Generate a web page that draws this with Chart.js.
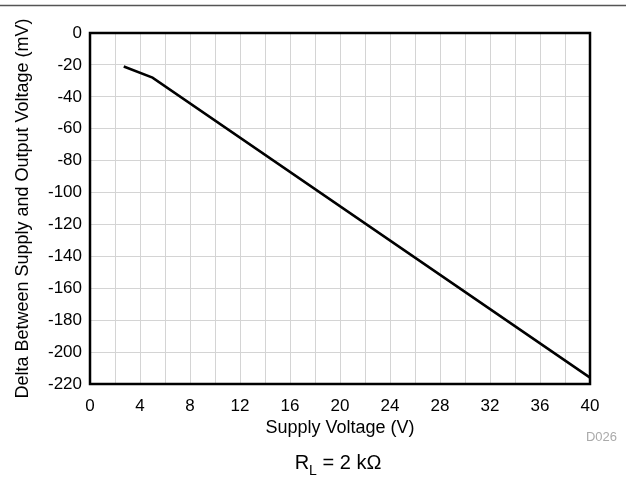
<!DOCTYPE html>
<html>
<head>
<meta charset="utf-8">
<script src="https://cdn.jsdelivr.net/npm/chart.js@4.4.1/dist/chart.umd.min.js"></script>
<style>
  html, body { margin: 0; padding: 0; background: #fff; }
  #wrap { width: 626px; height: 480px; position: relative; }
</style>
</head>
<body>
<div id="wrap"><canvas id="c" width="626" height="480"></canvas></div>
<script>
// values
const supplyVoltage = [2.7, 5, 40];
const deltaVoltage = [-21, -28, -216];
const xTickLabels = [0, 4, 8, 12, 16, 20, 24, 28, 32, 36, 40];
const yTickLabels = [0, -20, -40, -60, -80, -100, -120, -140, -160, -180, -200, -220];

const font = 'Liberation Sans, Arial, sans-serif';

// frame, header rule and the footnotes
const extras = {
  id: 'extras',
  afterDraw(chart) {
    const ctx = chart.ctx;
    const a = chart.chartArea;
    ctx.save();
    ctx.strokeStyle = '#000';
    ctx.lineWidth = 2.5;
    ctx.strokeRect(a.left, a.top, a.right - a.left, a.bottom - a.top);

    ctx.strokeStyle = '#555';
    ctx.lineWidth = 1.5;
    ctx.beginPath();
    ctx.moveTo(0, 5.5);
    ctx.lineTo(626, 5.5);
    ctx.stroke();

    ctx.fillStyle = '#aaa';
    ctx.font = '13px ' + font;
    ctx.textAlign = 'right';
    ctx.textBaseline = 'middle';
    ctx.fillText('D026', 617, 437);

    // R_L = 2 kΩ, with a real subscript
    ctx.fillStyle = '#000';
    ctx.font = '20px ' + font;
    ctx.textAlign = 'left';
    const w1 = ctx.measureText('R').width;
    ctx.font = '14px ' + font;
    const w2 = ctx.measureText('L').width;
    ctx.font = '20px ' + font;
    const w3 = ctx.measureText(' = 2 k\u03A9').width;
    let x = 338 - (w1 + w2 + w3) / 2;
    ctx.fillText('R', x, 463);
    x += w1;
    ctx.font = '14px ' + font;
    ctx.fillText('L', x, 471);
    x += w2;
    ctx.font = '20px ' + font;
    ctx.fillText(' = 2 k\u03A9', x, 463);
    ctx.restore();
  }
};

new Chart(document.getElementById('c'), {
  type: 'line',
  data: {
    datasets: [{
      data: supplyVoltage.map((v, i) => ({ x: v, y: deltaVoltage[i] })),
      borderColor: '#000',
      borderWidth: 2.5,
      pointRadius: 0,
      fill: false,
      tension: 0
    }]
  },
  options: {
    responsive: false,
    animation: false,
    layout: { padding: { left: 0, top: 33, right: 36, bottom: 41 } },
    plugins: { legend: { display: false }, tooltip: { enabled: false } },
    scales: {
      x: {
        type: 'linear',
        min: 0,
        max: 40,
        border: { display: false },
        grid: { color: '#d4d4d4', lineWidth: 1, drawTicks: false },
        ticks: {
          stepSize: 2,
          autoSkip: false,
          maxRotation: 0,
          padding: 12,
          color: '#000',
          font: { family: font, size: 17 },
          callback: v => xTickLabels.includes(v) ? String(v) : ''
        },
        title: {
          display: true,
          text: 'Supply Voltage (V)',
          color: '#000',
          font: { family: font, size: 18 },
          padding: { top: 0, bottom: 0 }
        },
        afterFit: s => { s.height = 55; }
      },
      y: {
        min: -220,
        max: 0,
        border: { display: false },
        grid: { color: '#d4d4d4', lineWidth: 1, drawTicks: false },
        ticks: {
          stepSize: 20,
          autoSkip: false,
          padding: 8,
          color: '#000',
          font: { family: font, size: 17 },
          callback: v => yTickLabels.includes(v) ? String(v) : ''
        },
        title: {
          display: true,
          text: 'Delta Between Supply and Output Voltage (mV)',
          color: '#000',
          font: { family: font, size: 18 },
          padding: { top: 12, bottom: 0 }
        },
        afterFit: s => { s.width = 90; }
      }
    }
  },
  plugins: [extras]
});
</script>
</body>
</html>
